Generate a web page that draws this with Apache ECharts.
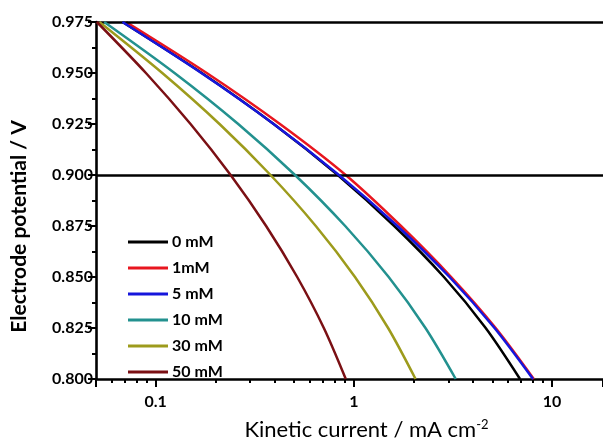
<!DOCTYPE html>
<html>
<head>
<meta charset="utf-8">
<script src="https://cdn.jsdelivr.net/npm/echarts@6/dist/echarts.min.js"></script>
<style>html,body{margin:0;padding:0;background:#fff}#c{width:603px;height:446px}</style>
</head>
<body>
<div id="c"></div>
<script>
const seriesNames = ['0 mM', '1mM', '5 mM', '10 mM', '30 mM', '50 mM'];
const seriesColors = ['#000000', '#e8161f', '#1616dc', '#23918f', '#9d9b1c', '#7b1014'];

// Electrode potential (V) read at each point, and the kinetic current (mA cm-2) read there
const potential0mM  = [0.975, 0.950, 0.925, 0.900, 0.875, 0.850, 0.825, 0.800];
const current0mM    = [0.068, 0.171, 0.394, 0.83, 1.60, 2.85, 4.63, 6.9];
const potential1mM  = [0.975, 0.950, 0.925, 0.900, 0.875, 0.850, 0.825, 0.800];
const current1mM    = [0.071, 0.181, 0.424, 0.91, 1.73, 3.10, 5.20, 8.1];
const potential5mM  = [0.975, 0.950, 0.925, 0.900, 0.875, 0.850, 0.825, 0.800];
const current5mM    = [0.068, 0.170, 0.394, 0.841, 1.66, 3.04, 5.13, 8.02];
const potential10mM = [0.975, 0.950, 0.925, 0.900, 0.875, 0.850, 0.825, 0.800];
const current10mM   = [0.055, 0.1245, 0.261, 0.505, 0.905, 1.50, 2.30, 3.27];
const potential30mM = [0.975, 0.950, 0.925, 0.900, 0.875, 0.850, 0.825, 0.800];
const current30mM   = [0.052, 0.108, 0.210, 0.380, 0.643, 1.014, 1.49, 2.05];
const potential50mM = [0.975, 0.950, 0.925, 0.900, 0.875, 0.850, 0.825, 0.800];
const current50mM   = [0.0505, 0.0893, 0.150, 0.239, 0.361, 0.518, 0.706, 0.911];

const referencePotentials = [0.975, 0.900];

const xMin = 0.05, xMax = 18.1;
const yMin = 0.800, yMax = 0.975, yStep = 0.025;

const curves = [
  [current0mM, potential0mM], [current1mM, potential1mM], [current5mM, potential5mM],
  [current10mM, potential10mM], [current30mM, potential30mM], [current50mM, potential50mM]
];

const FONT = 'Lato';
const chart = echarts.init(document.getElementById('c'), null, {renderer: 'canvas'});

const series = curves.map((c, i) => ({
  name: seriesNames[i],
  type: 'line',
  data: c[0].map((x, k) => [x, c[1][k]]),
  showSymbol: false,
  smooth: 0.3,
  lineStyle: {color: seriesColors[i], width: 2.5},
  itemStyle: {color: seriesColors[i]},
  z: 3 + i,
  markLine: i === 0 ? {
    silent: true,
    symbol: 'none',
    precision: 3,
    label: {show: false},
    lineStyle: {color: '#000', width: 2.6, type: 'solid'},
    data: referencePotentials.map(v => ({yAxis: v}))
  } : undefined
}));

chart.setOption({
  animation: false,
  backgroundColor: '#fff',
  grid: {left: 96, top: 22, right: 0, bottom: 58},
  legend: {
    orient: 'vertical',
    left: 123, top: 229,
    icon: 'rect',
    itemWidth: 40, itemHeight: 3,
    itemGap: 10,
    textStyle: {fontFamily: FONT, fontWeight: 'bold', fontSize: 16, color: '#000', lineHeight: 16, padding: [0, 0, 0, -1]},
    data: seriesNames
  },
  xAxis: {
    type: 'log',
    logBase: 10,
    min: xMin, max: xMax,
    name: 'Kinetic current / mA cm{sup|-2}',
    nameLocation: 'middle',
    nameGap: 39,
    nameTextStyle: {
      fontFamily: FONT, fontSize: 22, color: '#000', padding: [0, 0, 0, 34],
      rich: {sup: {fontFamily: FONT, fontSize: 13, color: '#000', verticalAlign: 'top', padding: [0, 0, 11, 0]}}
    },
    axisLine: {lineStyle: {color: '#000', width: 2.6}},
    axisTick: {inside: false, length: 8, lineStyle: {color: '#000', width: 2}},
    minorTick: {show: true, splitNumber: 9, length: 4, lineStyle: {color: '#000', width: 2}},
    axisLabel: {fontFamily: FONT, fontWeight: 'bold', fontSize: 16, color: '#000', margin: 15, showMinLabel: false, showMaxLabel: false},
    splitLine: {show: false},
    minorSplitLine: {show: false}
  },
  yAxis: {
    type: 'value',
    min: yMin, max: yMax, interval: yStep,
    name: 'Electrode potential / V',
    nameLocation: 'middle',
    nameGap: 66,
    nameTextStyle: {fontFamily: FONT, fontWeight: 'bold', fontSize: 21, color: '#000', padding: [0, 52, 0, 0]},
    axisLine: {show: true, lineStyle: {color: '#000', width: 2.6}},
    axisTick: {inside: false, length: 8, lineStyle: {color: '#000', width: 2}},
    minorTick: {show: true, splitNumber: 2, length: 4, lineStyle: {color: '#000', width: 2}},
    axisLabel: {fontFamily: FONT, fontWeight: 'bold', fontSize: 16, color: '#000', margin: 3, formatter: v => v.toFixed(3)},
    splitLine: {show: false}
  },
  series: series
});
</script>
</body>
</html>
